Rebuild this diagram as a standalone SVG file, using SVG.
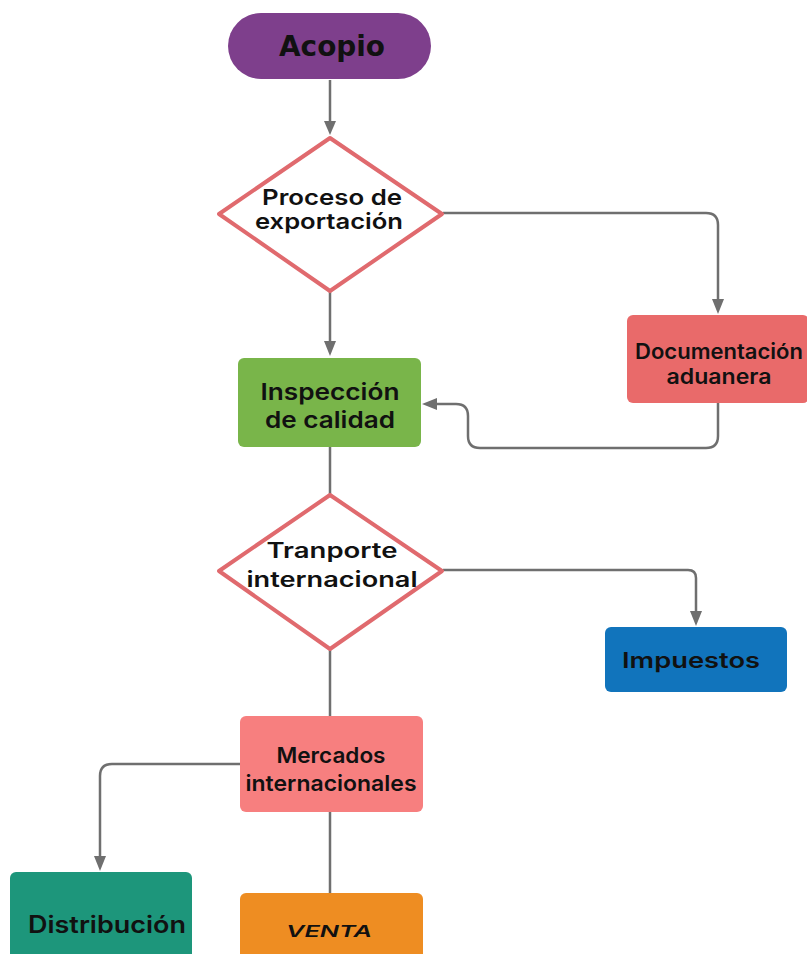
<svg xmlns="http://www.w3.org/2000/svg" width="807" height="954" viewBox="0 0 807 954">
  <style>
    .edge { fill: none; stroke: #6f6f6f; stroke-width: 2.5; stroke-linejoin: round; }
    .head { fill: #6f6f6f; }
    .lbl { font-family: Inter, "Open Sans", "Liberation Sans", sans-serif; font-weight: 600; fill: #111; text-anchor: middle; }
    .diamond { fill: #ffffff; stroke: #e06a6e; stroke-width: 4; stroke-linejoin: round; }
  </style>
  <rect width="807" height="954" fill="#ffffff"/>

  <!-- connectors -->
  <g id="connectors">
    <path class="edge" d="M330,80 V122"/>
    <path class="head" d="M324,121 L336,121 L330,135 Z"/>

    <path class="edge" d="M443,213 H706 Q718,213 718,225 V300"/>
    <path class="head" d="M712,299 L724,299 L718,314 Z"/>

    <path class="edge" d="M330,292 V342"/>
    <path class="head" d="M324,341 L336,341 L330,356 Z"/>

    <path class="edge" d="M718,403 V436 Q718,448 706,448 H480 Q468,448 468,436 V416 Q468,404 456,404 H436"/>
    <path class="head" d="M437,398 L437,410 L422,404 Z"/>

    <path class="edge" d="M330,447 V494"/>

    <path class="edge" d="M443,570 H688 Q696,570 696,578 V612"/>
    <path class="head" d="M690,611 L702,611 L696,626 Z"/>

    <path class="edge" d="M330,650 V716"/>

    <path class="edge" d="M240,764 H112 Q100,764 100,776 V857"/>
    <path class="head" d="M94,856 L106,856 L100,871 Z"/>

    <path class="edge" d="M330,812 V893"/>
  </g>

  <g id="acopio">
    <rect x="228" y="13" width="203" height="66" rx="33" fill="#7e3f8c"/>
    <text x="332" y="56" font-family="'DejaVu Sans', 'Liberation Sans', sans-serif" font-weight="bold" font-size="28" fill="#111" text-anchor="middle" textLength="106" lengthAdjust="spacingAndGlyphs">Acopio</text>
  </g>

  <g id="proceso-exportacion">
    <path class="diamond" d="M330,138 L442,214 L330,291 L219,214 Z"/>
    <text class="lbl" x="332" y="205" font-size="22" textLength="140" lengthAdjust="spacingAndGlyphs">Proceso de</text>
    <text class="lbl" x="329" y="229" font-size="22" textLength="148" lengthAdjust="spacingAndGlyphs">exportación</text>
  </g>

  <g id="documentacion">
    <rect x="627" y="315" width="182" height="88" rx="6" fill="#e96a6a"/>
    <text class="lbl" x="719" y="359" font-size="21" textLength="168" lengthAdjust="spacingAndGlyphs">Documentación</text>
    <text class="lbl" x="719" y="384" font-size="21" textLength="105" lengthAdjust="spacingAndGlyphs">aduanera</text>
  </g>

  <g id="inspeccion">
    <rect x="238" y="358" width="183" height="89" rx="6" fill="#79b54a"/>
    <text class="lbl" x="330" y="400" font-size="23" font-weight="700" textLength="139" lengthAdjust="spacingAndGlyphs">Inspección</text>
    <text class="lbl" x="330" y="428" font-size="23" font-weight="700" textLength="130" lengthAdjust="spacingAndGlyphs">de calidad</text>
  </g>

  <g id="transporte">
    <path class="diamond" d="M330,495 L442,571 L330,649 L219,571 Z"/>
    <text class="lbl" x="332" y="558" font-size="21" textLength="131" lengthAdjust="spacingAndGlyphs">Tranporte</text>
    <text class="lbl" x="332" y="587" font-size="21" textLength="171" lengthAdjust="spacingAndGlyphs">internacional</text>
  </g>

  <g id="impuestos">
    <rect x="605" y="627" width="182" height="65" rx="6" fill="#1174bc"/>
    <text class="lbl" x="691" y="668" font-size="22" font-weight="700" textLength="138" lengthAdjust="spacingAndGlyphs">Impuestos</text>
  </g>

  <g id="mercados">
    <rect x="240" y="716" width="183" height="96" rx="6" fill="#f77f7f"/>
    <text class="lbl" x="331" y="763" font-size="22" textLength="109" lengthAdjust="spacingAndGlyphs">Mercados</text>
    <text class="lbl" x="331" y="791" font-size="22" textLength="171" lengthAdjust="spacingAndGlyphs">internacionales</text>
  </g>

  <g id="distribucion">
    <rect x="10" y="872" width="182" height="95" rx="6" fill="#1d967b"/>
    <text class="lbl" x="107" y="933" font-size="24" font-weight="700" textLength="158" lengthAdjust="spacingAndGlyphs">Distribución</text>
  </g>

  <g id="venta">
    <rect x="240" y="893" width="183" height="75" rx="6" fill="#ee8d22"/>
    <text class="lbl" x="329" y="937" font-size="16" font-weight="800" font-style="italic" textLength="86" lengthAdjust="spacingAndGlyphs">VENTA</text>
  </g>
</svg>
